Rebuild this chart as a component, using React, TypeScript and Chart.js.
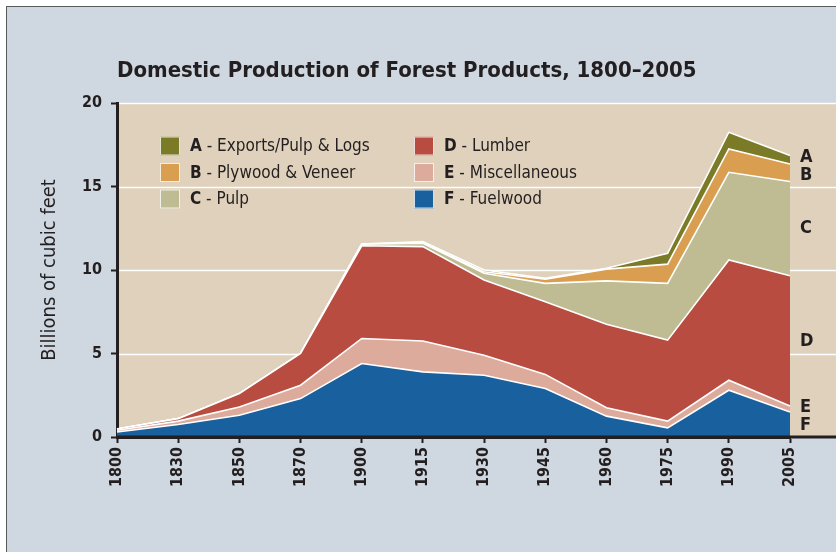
import React, { useEffect, useRef } from 'react';
import { Chart, registerables } from 'chart.js';

Chart.register(...registerables);

// ---- data (billions of cubic feet) ----
const years = ['1800', '1830', '1850', '1870', '1900', '1915', '1930', '1945', '1960', '1975', '1990', '2005'];
const fuelwood = [0.3, 0.75, 1.3, 2.3, 4.4, 3.9, 3.7, 2.9, 1.25, 0.55, 2.8, 1.5];
const miscellaneous = [0.1, 0.2, 0.5, 0.8, 1.5, 1.85, 1.2, 0.85, 0.5, 0.4, 0.6, 0.35];
const lumber = [0.08, 0.15, 0.8, 1.9, 5.55, 5.65, 4.5, 4.35, 5.0, 4.85, 7.2, 7.8];
const pulp = [0, 0, 0, 0, 0.1, 0.2, 0.4, 1.1, 2.6, 3.4, 5.25, 5.65];
const plywood = [0, 0, 0, 0, 0, 0.05, 0.1, 0.25, 0.7, 1.15, 1.4, 1.05];
const exportsPulpLogs = [0, 0, 0, 0, 0, 0.05, 0.1, 0.05, 0.05, 0.65, 1.0, 0.5];

// bottom -> top
const seriesLetters = ['F', 'E', 'D', 'C', 'B', 'A'];
const seriesNames = ['Fuelwood', 'Miscellaneous', 'Lumber', 'Pulp', 'Plywood & Veneer', 'Exports/Pulp & Logs'];
const yTicks = [0, 5, 10, 15, 20];
const titleText = 'Domestic Production of Forest Products, 1800\u20132005';
const yAxisTitle = 'Billions of cubic feet';

// ---- style ----
const COLORS = ['#19609e', '#ddab9b', '#b84c40', '#bfbb92', '#d99e50', '#7b7a26'];
const PLOT_BG = '#dfd1bb';
const OUTER_BG = '#cfd7e0';
const INK = '#231f20';
const FONT = '"Liberation Sans Narrow", "DejaVu Sans Condensed", Roboto, sans-serif';

export default function App() {
  const ref = useRef<HTMLCanvasElement>(null);

  useEffect(() => {
    const canvas = ref.current;
    if (!canvas) return;
    const values = [fuelwood, miscellaneous, lumber, pulp, plywood, exportsPulpLogs];

    const datasets = values.map((data, i) => ({
      label: `${seriesLetters[i]} - ${seriesNames[i]}`,
      data,
      backgroundColor: COLORS[i],
      borderColor: '#ffffff',
      borderWidth: 1.6,
      pointRadius: 0,
      pointHoverRadius: 0,
      fill: i === 0 ? 'origin' : '-1',
      tension: 0,
    }));

    const decor = {
      id: 'decor',
      beforeDraw(chart: any) {
        const { ctx, chartArea, scales } = chart;
        const W = chart.width;
        ctx.save();
        ctx.fillStyle = PLOT_BG;
        ctx.fillRect(chartArea.left, chartArea.top, W - chartArea.left, chartArea.bottom - chartArea.top);
        ctx.strokeStyle = '#ffffff';
        ctx.lineWidth = 1.5;
        yTicks.forEach((v) => {
          if (v === 0) return;
          const y = Math.round(scales.y.getPixelForValue(v)) + 0.5;
          ctx.beginPath();
          ctx.moveTo(chartArea.left, y);
          ctx.lineTo(W, y);
          ctx.stroke();
        });
        ctx.restore();
      },
      afterDatasetsDraw(chart: any) {
        const { ctx, chartArea, scales } = chart;
        ctx.save();
        // legend inside the plot
        const cols = [[5, 4, 3], [2, 1, 0]];
        const colX = [chartArea.left + 43, chartArea.left + 297];
        const rowY = [chartArea.top + 43, chartArea.top + 69.5, chartArea.top + 96];
        ctx.textBaseline = 'middle';
        cols.forEach((col, c) => {
          col.forEach((idx, r) => {
            const x = colX[c];
            const y = rowY[r];
            ctx.fillStyle = COLORS[idx];
            ctx.fillRect(x, y - 9.5, 20, 19);
            ctx.strokeStyle = 'rgba(255,255,255,0.8)';
            ctx.lineWidth = 1;
            ctx.strokeRect(x + 0.5, y - 9, 19, 18);
            ctx.fillStyle = INK;
            ctx.textAlign = 'left';
            ctx.font = `bold 17px ${FONT}`;
            ctx.fillText(seriesLetters[idx], x + 30, y + 1);
            const lw = ctx.measureText(seriesLetters[idx]).width;
            ctx.font = `17px ${FONT}`;
            ctx.fillText(' - ' + seriesNames[idx], x + 30 + lw, y + 1);
          });
        });

        // right-hand series letters
        const last = years.length - 1;
        let cum = 0;
        const mids: number[] = [];
        values.forEach((arr) => {
          const lo = cum;
          cum += arr[last];
          mids.push(scales.y.getPixelForValue((lo + cum) / 2));
        });
        const gap = 18;
        for (let iter = 0; iter < 5; iter++) {
          for (let i = 0; i < mids.length - 1; i++) {
            const d = mids[i] - mids[i + 1];
            if (d < gap) {
              const push = (gap - d) / 2;
              mids[i] += push;
              mids[i + 1] -= push;
            }
          }
        }
        ctx.font = `bold 18px ${FONT}`;
        ctx.fillStyle = INK;
        ctx.textAlign = 'left';
        mids.forEach((y, i) => ctx.fillText(seriesLetters[i], chartArea.right + 10, y));

        // extend the x axis line to the right edge
        ctx.strokeStyle = INK;
        ctx.lineWidth = 3;
        ctx.beginPath();
        ctx.moveTo(chartArea.left, chartArea.bottom);
        ctx.lineTo(chart.width, chartArea.bottom);
        ctx.stroke();
        ctx.restore();
      },
    };

    const chart = new Chart(canvas, {
      type: 'line',
      data: { labels: years, datasets },
      options: {
        responsive: false,
        animation: false,
        events: [],
        layout: { padding: { top: 40, left: 0, right: 46, bottom: 0 } },
        plugins: {
          legend: { display: false },
          tooltip: { enabled: false },
          title: {
            display: true,
            text: titleText,
            fullSize: false,
            align: 'start',
            color: INK,
            font: { family: FONT, size: 22, weight: 'bold' },
            padding: { top: 18, bottom: 18.6 },
          },
        },
        scales: {
          x: {
            type: 'category',
            offset: false,
            grid: { display: true, drawOnChartArea: false, tickColor: INK, tickLength: 6, tickWidth: 2 },
            border: { display: true, color: INK, width: 3 },
            ticks: {
              autoSkip: false,
              maxRotation: 90,
              minRotation: 90,
              padding: 4,
              color: INK,
              font: { family: FONT, size: 16, weight: 'bold' },
            },
            afterFit: (s: any) => { s.height = 552 - 437; },
          },
          y: {
            stacked: true,
            min: 0,
            max: 20,
            grid: { display: true, drawOnChartArea: false, tickColor: INK, tickLength: 6, tickWidth: 2 },
            border: { display: true, color: INK, width: 3 },
            ticks: {
              stepSize: 5,
              padding: 9,
              color: INK,
              font: { family: FONT, size: 16, weight: 'bold' },
            },
            title: {
              display: true,
              text: yAxisTitle,
              color: INK,
              font: { family: FONT, size: 20 },
              padding: { top: 38, bottom: 0 },
            },
            afterFit: (s: any) => { s.width = 117; },
          },
        },
      },
      plugins: [decor],
    });
    return () => chart.destroy();
  }, []);

  return (
    <div style={{ position: 'fixed', left: 0, top: 0, width: 836, height: 552, background: '#ffffff', overflow: 'hidden' }}>
      <div
        style={{
          position: 'absolute',
          left: 6,
          top: 6,
          right: 0,
          bottom: 0,
          background: OUTER_BG,
          borderLeft: '1.5px solid #5a5a5a',
          borderTop: '1.5px solid #5a5a5a',
        }}
      />
      <canvas ref={ref} width={836} height={552} style={{ position: 'absolute', left: 0, top: 0, width: 836, height: 552 }} />
    </div>
  );
}
